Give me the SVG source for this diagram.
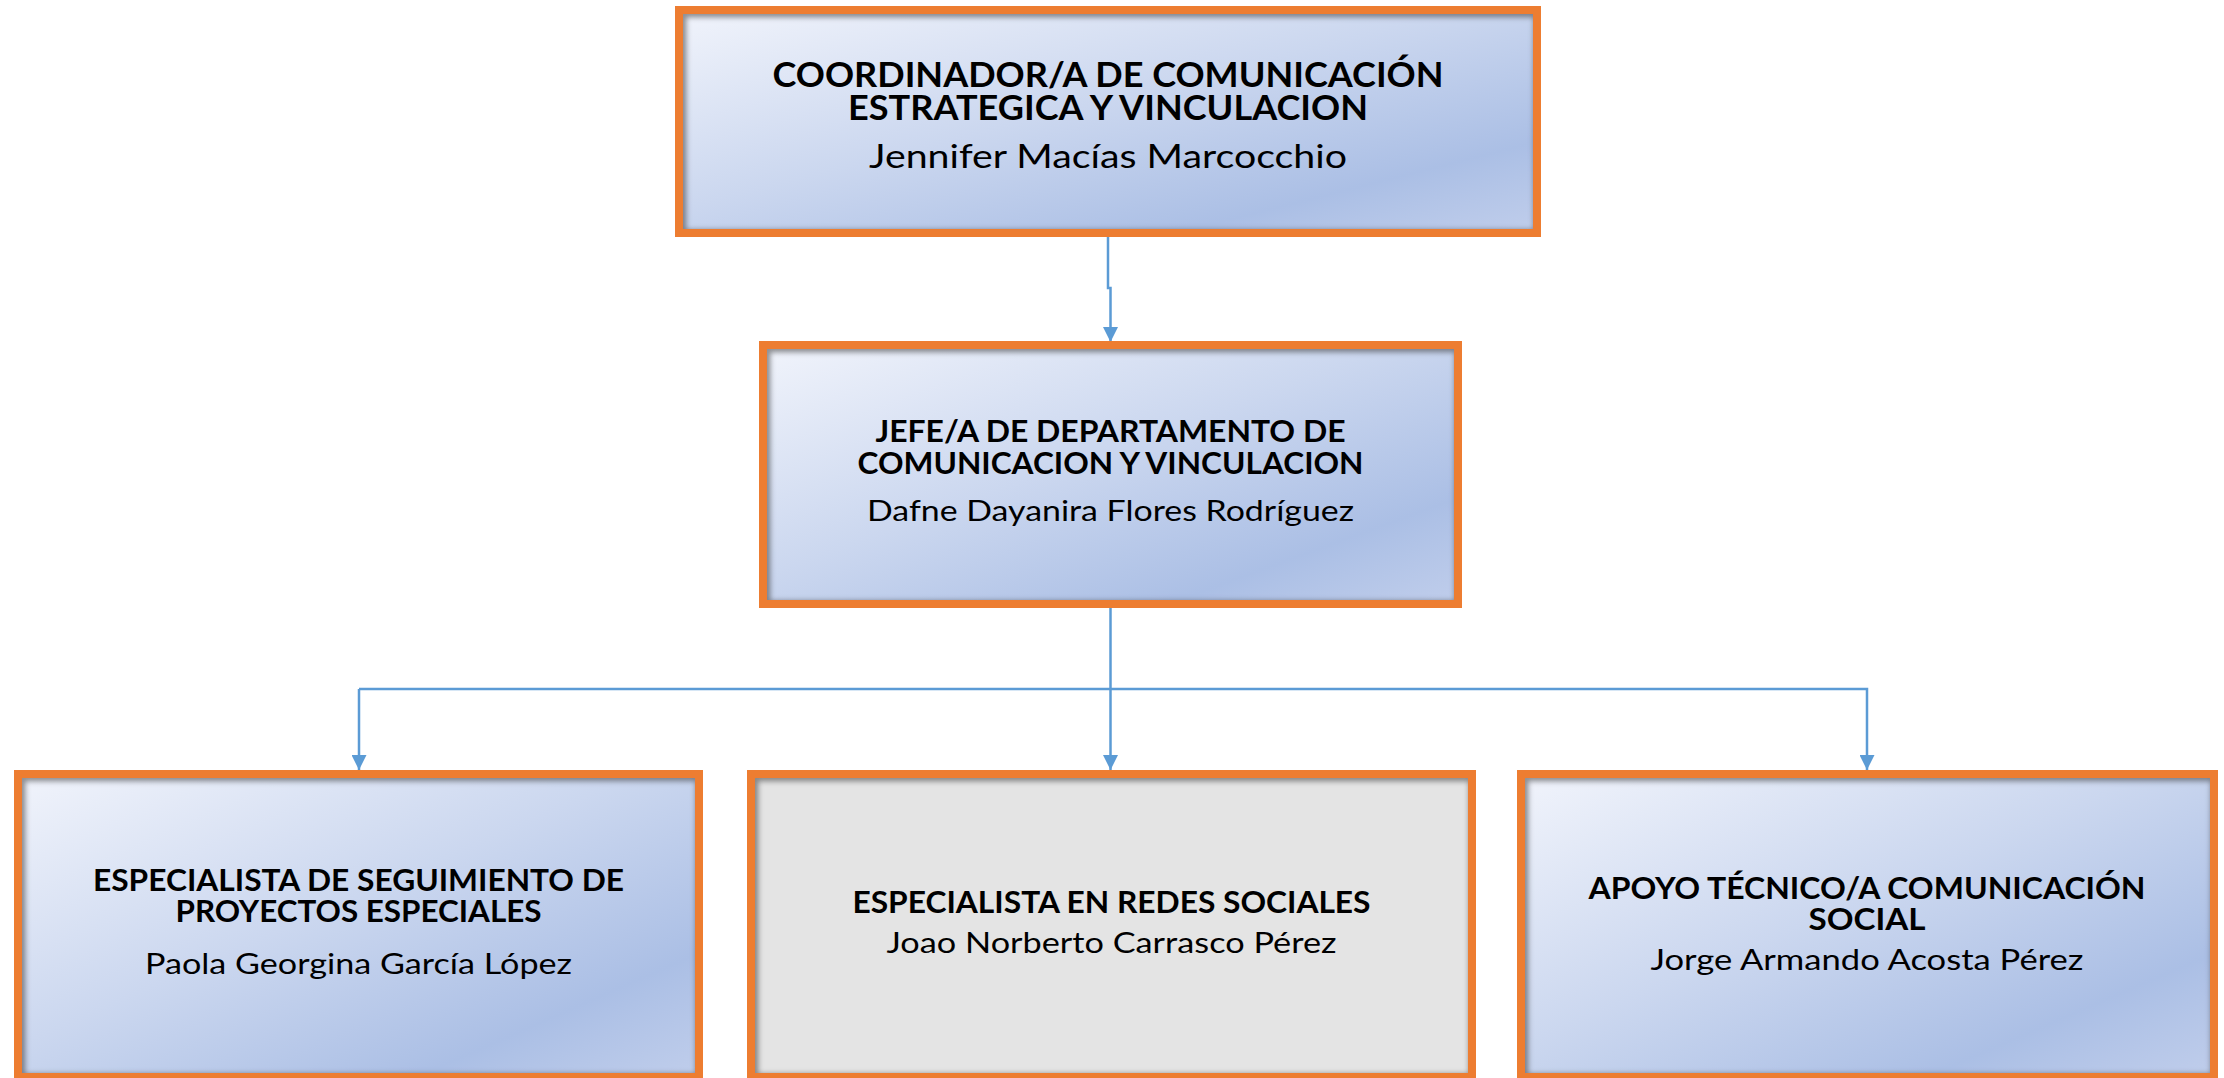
<svg xmlns="http://www.w3.org/2000/svg" width="2224" height="1078" viewBox="0 0 2224 1078">
<style>
.box{fill:none;stroke:#ED7D31;stroke-width:8}
.fillb{fill:url(#gBlue);filter:url(#inset)}
.fillg{fill:#E4E4E4;filter:url(#inset)}
.t{font-family:Lato,"Open Sans","Liberation Sans",sans-serif;font-weight:700;fill:#000;text-anchor:middle}
.n{font-family:Lato,"Open Sans","Liberation Sans",sans-serif;font-weight:400;fill:#000;text-anchor:middle}
.conn{fill:none;stroke:#5B9BD5;stroke-width:2.5}
</style>
<defs>
<linearGradient id="gBlue" x1="0" y1="0" x2="1" y2="1">
<stop offset="0" stop-color="#F0F3FB"/>
<stop offset="0.45" stop-color="#CBD7EF"/>
<stop offset="0.8" stop-color="#ABBFE5"/>
<stop offset="1" stop-color="#BFCDEB"/>
</linearGradient>
<filter id="inset" x="0" y="0" width="1" height="1">
<feOffset in="SourceAlpha" dx="4" dy="4"/>
<feGaussianBlur stdDeviation="2.5" result="b"/>
<feComposite in="SourceAlpha" in2="b" operator="out" result="inv"/>
<feFlood flood-color="#505050" flood-opacity="0.75"/>
<feComposite in2="inv" operator="in" result="sh"/>
<feMerge><feMergeNode in="SourceGraphic"/><feMergeNode in="sh"/></feMerge>
</filter>
<marker id="arr" viewBox="0 0 10 10" refX="10" refY="5" markerWidth="15" markerHeight="15" markerUnits="userSpaceOnUse" orient="auto">
<path d="M0,0 L10,5 L0,10 Z" fill="#5B9BD5"/>
</marker>
</defs>
<rect width="2224" height="1078" fill="#fff"/>

<g id="connectors">
<path class="conn" d="M1108,237 V288 H1110.5 V342" marker-end="url(#arr)"/>
<path class="conn" d="M1110.5,608 V770" marker-end="url(#arr)"/>
<path class="conn" d="M359,689 H1867 V770" marker-end="url(#arr)"/>
<path class="conn" d="M359,689 V770" marker-end="url(#arr)"/>
</g>

<g id="node-coordinador">
<rect class="fillb" x="683" y="14" width="850" height="215"/>
<rect class="box" x="679" y="10" width="858" height="223"/>
<text class="t" x="1108" y="87" font-size="33.5" textLength="671" lengthAdjust="spacingAndGlyphs">COORDINADOR/A DE COMUNICACIÓN</text>
<text class="t" x="1108" y="119.5" font-size="33.5" textLength="520" lengthAdjust="spacingAndGlyphs">ESTRATEGICA Y VINCULACION</text>
<text class="n" x="1108" y="168" font-size="33.5" textLength="478" lengthAdjust="spacingAndGlyphs">Jennifer Macías Marcocchio</text>
</g>

<g id="node-jefe">
<rect class="fillb" x="767" y="349" width="687" height="251"/>
<rect class="box" x="763" y="345" width="695" height="259"/>
<text class="t" x="1110.5" y="441.7" font-size="29.5" textLength="470" lengthAdjust="spacingAndGlyphs">JEFE/A DE DEPARTAMENTO DE</text>
<text class="t" x="1110.5" y="474" font-size="29.5" textLength="506" lengthAdjust="spacingAndGlyphs">COMUNICACION Y VINCULACION</text>
<text class="n" x="1110.5" y="520.7" font-size="29.5" textLength="487" lengthAdjust="spacingAndGlyphs">Dafne Dayanira Flores Rodríguez</text>
</g>

<g id="node-seguimiento">
<rect class="fillb" x="22" y="778" width="673" height="295"/>
<rect class="box" x="18" y="774" width="681" height="303"/>
<text class="t" x="358.5" y="890.7" font-size="29.5" textLength="531" lengthAdjust="spacingAndGlyphs">ESPECIALISTA DE SEGUIMIENTO DE</text>
<text class="t" x="358.5" y="921.7" font-size="29.5" textLength="366" lengthAdjust="spacingAndGlyphs">PROYECTOS ESPECIALES</text>
<text class="n" x="358.5" y="974" font-size="29.5" textLength="427" lengthAdjust="spacingAndGlyphs">Paola Georgina García López</text>
</g>

<g id="node-redes">
<rect class="fillg" x="755" y="778" width="713" height="295"/>
<rect class="box" x="751" y="774" width="721" height="303"/>
<text class="t" x="1111.5" y="913" font-size="29.5" textLength="518" lengthAdjust="spacingAndGlyphs">ESPECIALISTA EN REDES SOCIALES</text>
<text class="n" x="1111.5" y="953" font-size="29.5" textLength="450" lengthAdjust="spacingAndGlyphs">Joao Norberto Carrasco Pérez</text>
</g>

<g id="node-apoyo">
<rect class="fillb" x="1525" y="778" width="685" height="295"/>
<rect class="box" x="1521" y="774" width="693" height="303"/>
<text class="t" x="1867" y="899.3" font-size="29.5" textLength="557" lengthAdjust="spacingAndGlyphs">APOYO TÉCNICO/A COMUNICACIÓN</text>
<text class="t" x="1867" y="930" font-size="29.5" textLength="117" lengthAdjust="spacingAndGlyphs">SOCIAL</text>
<text class="n" x="1867" y="970" font-size="29.5" textLength="433" lengthAdjust="spacingAndGlyphs">Jorge Armando Acosta Pérez</text>
</g>
</svg>
